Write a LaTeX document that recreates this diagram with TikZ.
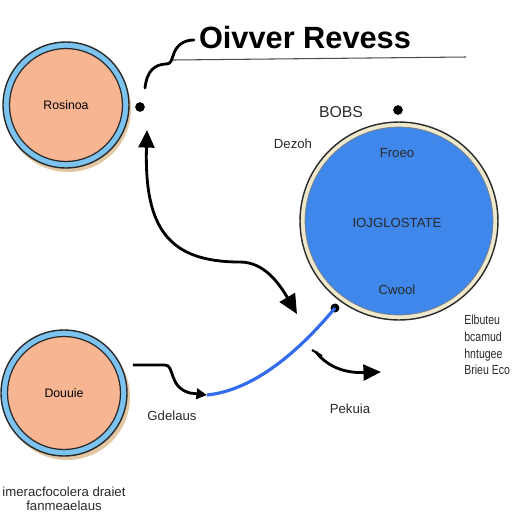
\documentclass[tikz,border=0pt]{standalone}
\usepackage{fontspec}
\setmainfont{Liberation Sans}
\usetikzlibrary{arrows.meta}
\definecolor{salmon}{HTML}{F8B592}
\definecolor{ringblue}{HTML}{7CC3F0}
\definecolor{bigblue}{HTML}{3F87EA}
\definecolor{cream}{HTML}{EEE8CC}
\definecolor{shadowtan}{HTML}{E2C7A2}
\definecolor{darkline}{HTML}{2A2A2A}
\tikzset{
  ring/.style={circle, draw=darkline, line width=0.8pt, fill=ringblue, inner sep=0pt},
  core/.style={circle, draw=darkline, line width=0.7pt, fill=salmon, inner sep=0pt, font=\fontsize{7}{8}\selectfont},
  lbl/.style={font=\fontsize{7.5}{8}\selectfont, text=darkline, inner sep=0pt},
  conn/.style={line width=1.6pt, draw=black},
  bigtip/.style={-{Triangle[length=10pt,width=9pt]}},
  dot/.style={circle, fill=black, inner sep=0pt, minimum size=5.5pt},
}
\newcommand{\narrow}[1]{\scalebox{0.8}[1]{#1}}
\begin{document}
\begin{tikzpicture}[x=0.02cm,y=-0.02cm]
\useasboundingbox (0,0) rectangle (512,512);
\fill[white] (0,0) rectangle (512,512);

% title and line
\node[font=\fontsize{17.5}{19}\selectfont\bfseries, inner sep=0pt] (title) at (305,38) {Oivver Revess};
\coordinate (ls) at (173,60);
\coordinate (le) at (466,57);
\draw[line width=0.6pt, draw=black!70] (ls) -- (le);
\coordinate (sq0) at (145,88);
\coordinate (sq1) at (194,40);
\draw[conn, line cap=round] (sq0) .. controls (147,70) and (155,65) .. (165,64) .. controls (172,64) and (171,60) .. (173,56) .. controls (176,45) and (184,40) .. (sq1);

% top left circle
\fill[shadowtan] (68,109) circle (63);
\node[ring, minimum size=2.52cm] (c1) at (66,105) {};
\node[core, minimum size=2.26cm] (c1i) at (66,105) {Rosinoa};
\node[dot] (d1) at (140,107) {};

% big blue circle
\node[circle, draw=darkline, line width=0.8pt, fill=cream, inner sep=0pt, minimum size=3.96cm] (c2) at (399,221) {};
\node[circle, draw=darkline!60, line width=0.4pt, fill=bigblue, inner sep=0pt, minimum size=3.76cm] (c2i) at (399,221) {};
\node[lbl] (t1) at (397,153) {Froeo};
\node[lbl] (t2) at (397,223) {IOJGLOSTATE};
\node[lbl] (t3) at (397,290) {Cwool};
\node[dot] (d2) at (398,110) {};
\node[lbl, font=\fontsize{9}{10}\selectfont] (bobs) at (341,112) {BOBS};
\node[lbl] (dezoh) at (293,144) {Dezoh};

% bottom left circle
\fill[shadowtan] (67,397) circle (63);
\node[ring, minimum size=2.52cm] (c3) at (64,393) {};
\node[core, minimum size=2.26cm] (c3i) at (64,393) {Douuie};

% long double arrow
\coordinate (a0) at (147,130);
\coordinate (a1) at (297,314);
\draw[conn, {Triangle[length=10pt,width=9pt]}-{Triangle[length=11pt,width=10pt]}] (a0) .. controls (144,230) and (170,262) .. (240,262) .. controls (265,262) and (280,285) .. (a1);

% blue line
\coordinate (b0) at (335,308);
\coordinate (b1) at (207,395);
\fill[black] (b0) circle (4.5);
\draw[line width=1.8pt, draw=bigblue!80!blue] (b0) .. controls (300,350) and (255,390) .. (b1);
% black squiggle
\coordinate (s0) at (133,365);
\draw[conn, -{Triangle[length=6pt,width=6pt]}] (s0) -- (165,365) .. controls (175,365) and (168,387) .. (190,393) -- (b1);

% small arrow
\coordinate (m0) at (316,352);
\coordinate (m1) at (381,372);
\draw[line width=1.2pt] (312,350) -- (322,356);
\draw[conn, bigtip] (m0) .. controls (330,370) and (350,373) .. (m1);

% labels
\node[lbl] (pek) at (350,409) {Pekuia};
\node[lbl] (gde) at (172,416) {Gdelaus};
\node[lbl, align=center] (bot) at (64,499) {imeracfocolera draiet\\fanmeaelaus};
\node[lbl, align=left, anchor=north west, font=\fontsize{7.5}{9.5}\selectfont] (right) at (464,315) {\narrow{Elbuteu}\\\narrow{bcamud}\\\narrow{hntugee}\\\narrow{Brieu Eco}};
\end{tikzpicture}
\end{document}
